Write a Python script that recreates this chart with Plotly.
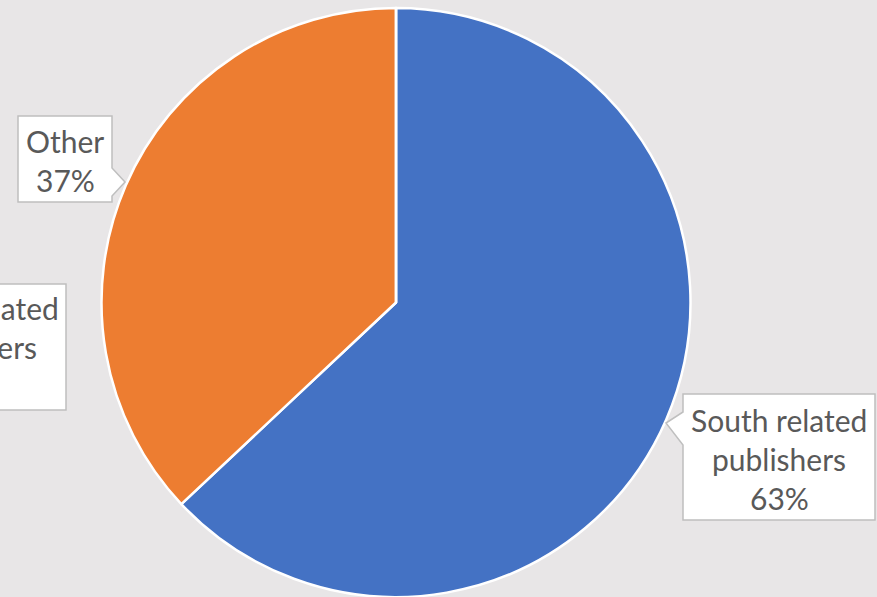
import plotly.graph_objects as go

labels = ["South related publishers", "Other", "North related publishers"]
values = [63, 37, 0]
colors = ["#4472C4", "#ED7D31", "#A5A5A5"]
label_lines = [["South related", "publishers", "63%"], ["Other", "37%"], ["North related", "publishers", "0%"]]

W, H = 877, 597
def px(x): return x / W
def py(y): return 1 - y / H

fig = go.Figure(go.Pie(
    labels=labels, values=values, sort=False, direction="clockwise", rotation=0,
    marker=dict(colors=colors, line=dict(color="white", width=2.5)),
    textinfo="none", hoverinfo="label+percent", showlegend=False,
    domain=dict(x=[px(101), px(691)], y=[0, py(8)]),
))

BG = "#E8E6E7"
shapes = []
annotations = []

def callout(x0, y0, x1, y1, side, tip, b0, b1):
    if side == "right":
        path = (f"M {px(x0)},{py(y0)} L {px(x1)},{py(y0)} L {px(x1)},{py(b0)} "
                f"L {px(tip[0])},{py(tip[1])} L {px(x1)},{py(b1)} L {px(x1)},{py(y1)} "
                f"L {px(x0)},{py(y1)} Z")
    elif side == "left":
        path = (f"M {px(x0)},{py(y0)} L {px(x1)},{py(y0)} L {px(x1)},{py(y1)} "
                f"L {px(x0)},{py(y1)} L {px(x0)},{py(b1)} L {px(tip[0])},{py(tip[1])} "
                f"L {px(x0)},{py(b0)} Z")
    else:
        path = (f"M {px(x0)},{py(y0)} L {px(x1)},{py(y0)} L {px(x1)},{py(y1)} "
                f"L {px(x0)},{py(y1)} Z")
    shapes.append(dict(type="path", xref="paper", yref="paper", path=path,
                       fillcolor="white", line=dict(color="#BFBFBF", width=1.5)))

def lines_text(lines, cx, cy, spacing):
    n = len(lines)
    for i, t in enumerate(lines):
        y = cy + (i - (n - 1) / 2) * spacing
        annotations.append(dict(text=t, x=px(cx), y=py(y), xref="paper", yref="paper",
                                showarrow=False, xanchor="center", yanchor="middle",
                                font=dict(family="Lato", size=30, color="#595959")))

# South related publishers
callout(683, 394, 875, 520, "left", (666, 423), 412, 445)
lines_text(label_lines[0], 779, 459, 39)
# Other
callout(18, 116, 112, 202, "right", (125, 182), 168, 196)
lines_text(label_lines[1], 65, 160, 39)
# North related (cut off at the left edge, as in the reference)
callout(-126, 284, 66, 410, "none", None, 0, 0)
lines_text(label_lines[2], -30, 347, 39)

fig.update_layout(
    width=W, height=H, margin=dict(l=0, r=0, t=0, b=0),
    paper_bgcolor=BG, plot_bgcolor=BG,
    shapes=shapes, annotations=annotations,
)
fig.write_html("out.html", config={"displayModeBar": False},
               post_script="document.body.style.margin='0';document.body.style.overflow='hidden';")
